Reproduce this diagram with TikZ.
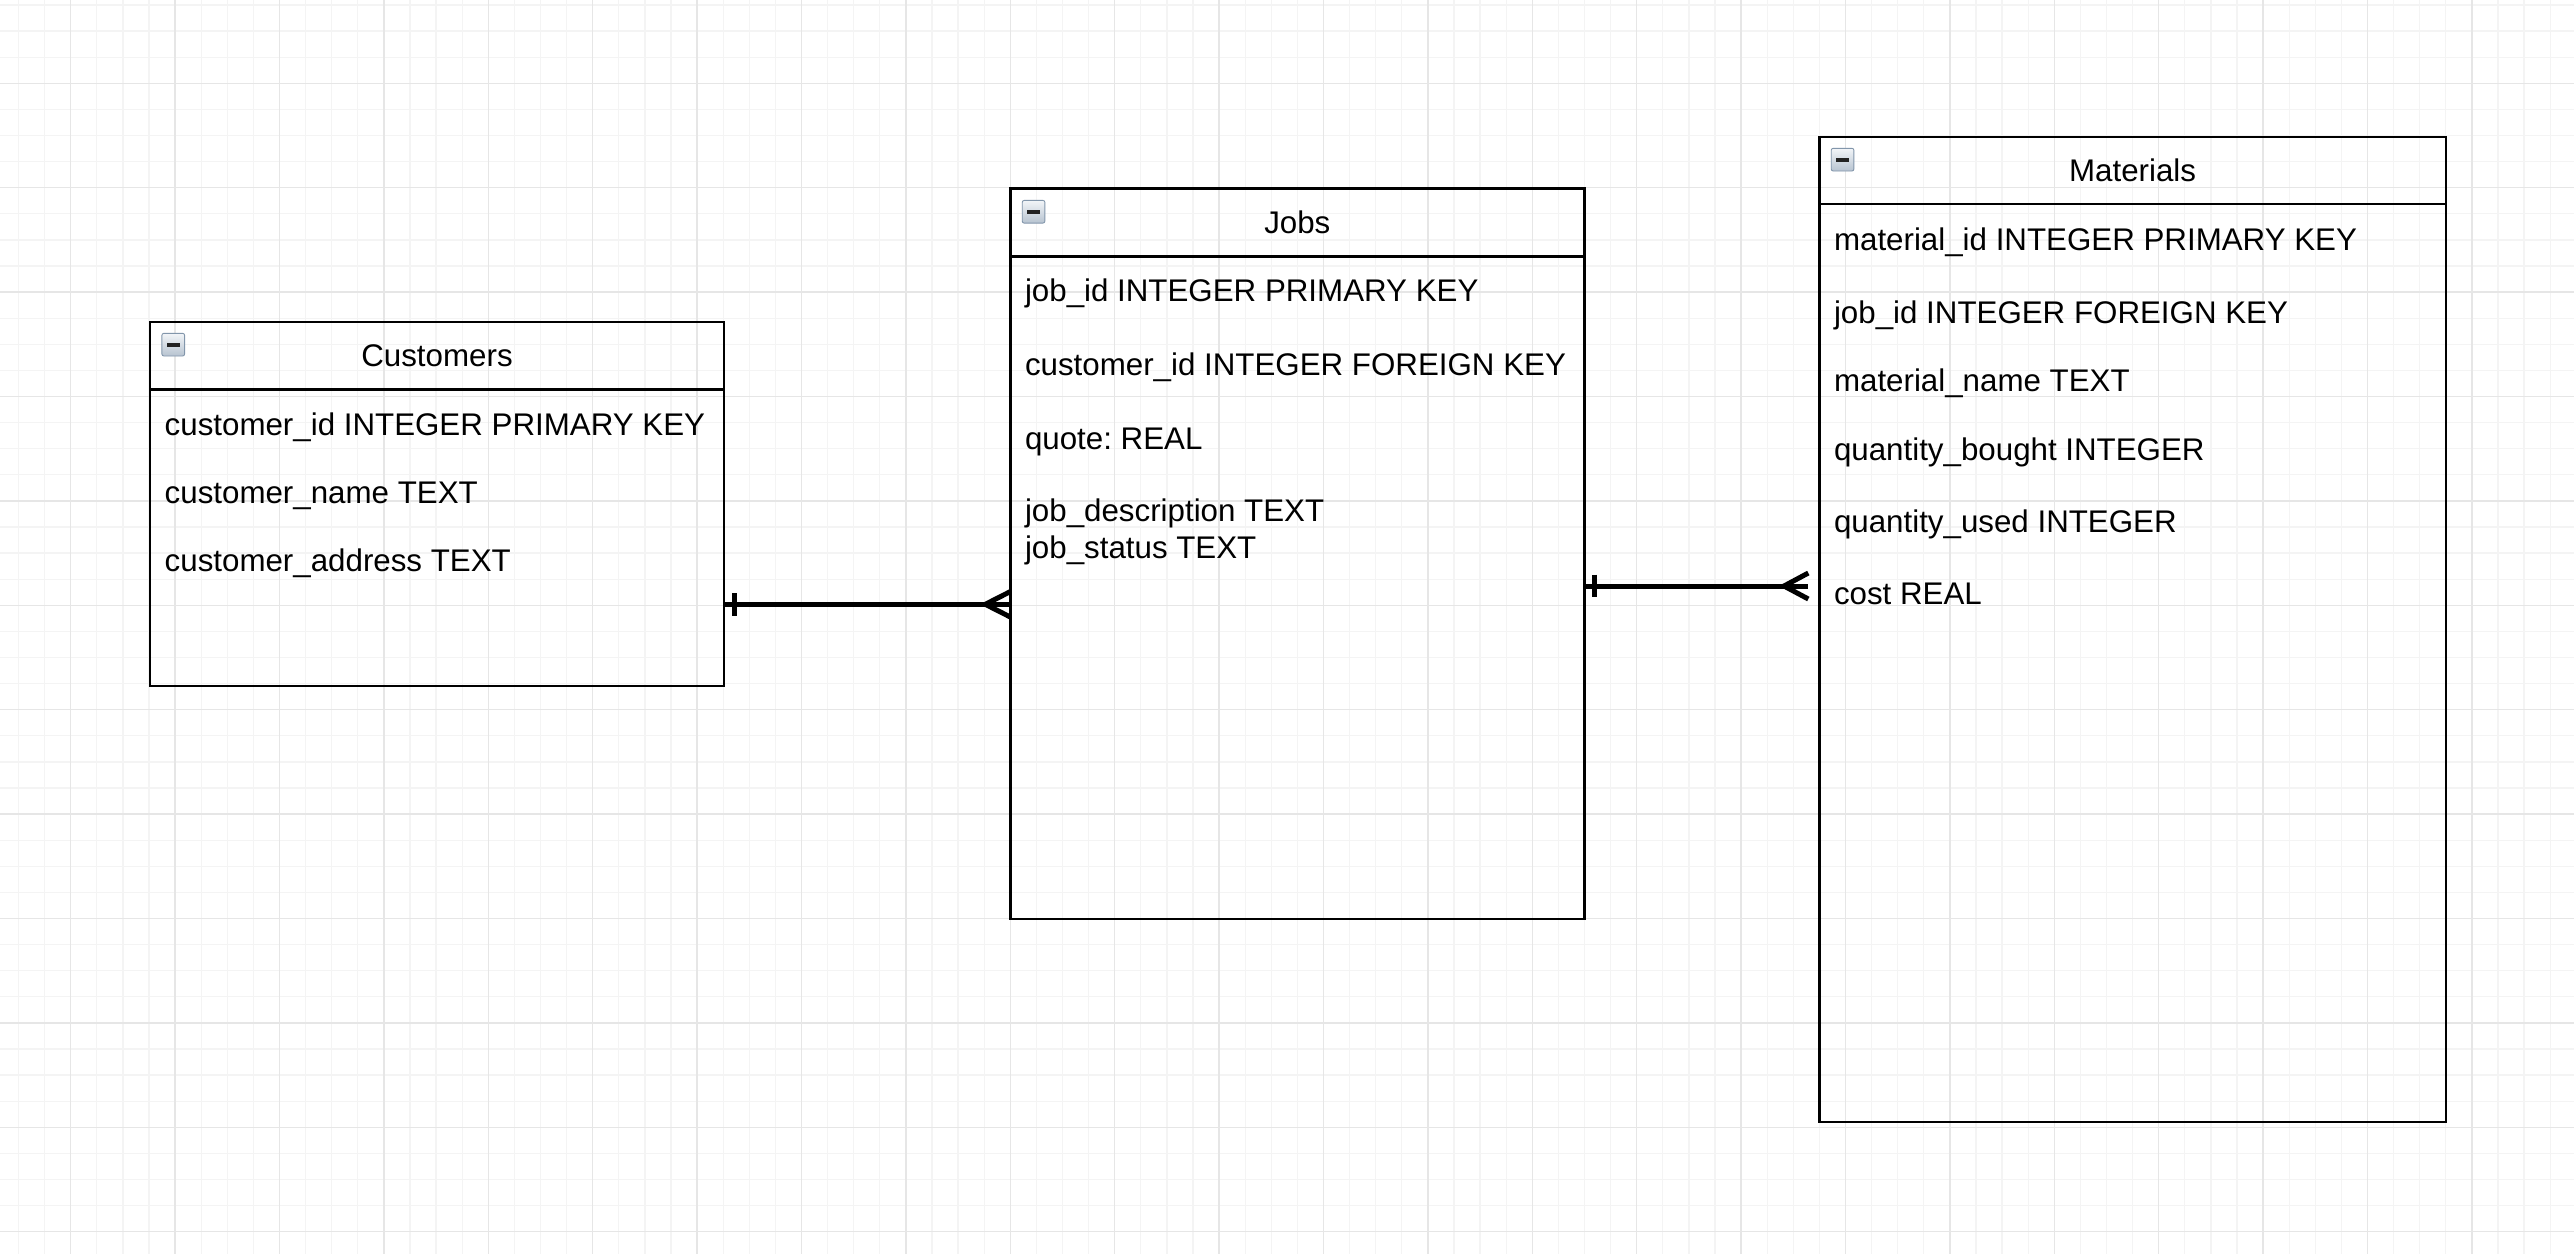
\documentclass[tikz,border=0pt]{standalone}
\usepackage{fontspec}
\setmainfont{Liberation Sans}
\usetikzlibrary{calc}
\frenchspacing
\definecolor{gridminor}{HTML}{F4F4F4}
\definecolor{gridmajor}{HTML}{E6E6E6}
\definecolor{icontop}{HTML}{F2F5F8}
\definecolor{iconbot}{HTML}{B7C3D0}
\definecolor{iconedge}{HTML}{8296AB}
\definecolor{iconbar}{HTML}{222222}
\tikzset{
  tablebox/.style={draw=black, line width=2.4pt, inner sep=0pt, outer sep=0pt, anchor=north west},
  headline/.style={draw=black, line width=2.4pt},
  titletext/.style={font=\fontsize{31.3pt}{37.6pt}\selectfont, inner sep=0pt, anchor=base},
  field/.style={font=\fontsize{31.3pt}{37.6pt}\selectfont, inner sep=0pt, anchor=base west},
  conn/.style={draw=black, line width=5pt},
  iconbox/.style={draw=iconedge, line width=0.9pt, rounded corners=2pt, top color=icontop, bottom color=iconbot, minimum size=22.7pt, inner sep=0pt, outer sep=0pt, anchor=north west},
  minusbar/.style={fill=iconbar},
  minorline/.style={draw=gridminor, line width=1.3pt},
  majorline/.style={draw=gridmajor, line width=1.3pt}
}
\begin{document}
\begin{tikzpicture}[x=1pt,y=-1pt]
\useasboundingbox (0,0) rectangle (2574,1254);
\fill[white] (0,0) rectangle (2574,1254);
% grid
\foreach \k in {0,...,97} {
  \pgfmathsetmacro\gx{18.5+26.1*\k}
  \draw[minorline] (\gx,0) -- (\gx,1254);
}
\foreach \k in {0,...,47} {
  \pgfmathsetmacro\gy{5.0+26.1*\k}
  \draw[minorline] (0,\gy) -- (2574,\gy);
}
\foreach \k in {0,...,23} {
  \pgfmathsetmacro\gx{70.7+104.4*\k}
  \draw[majorline] (\gx,0) -- (\gx,1254);
}
\foreach \k in {0,...,11} {
  \pgfmathsetmacro\gy{83.3+104.4*\k}
  \draw[majorline] (0,\gy) -- (2574,\gy);
}

% tables
\node[tablebox, minimum width=574pt, minimum height=364.3pt] (customers) at (150,321.7) {};
\node[tablebox, minimum width=574pt, minimum height=730.4pt] (jobs) at (1010.3,188.6) {};
\node[tablebox, minimum width=626.5pt, minimum height=985.3pt] (materials) at (1819.3,136.7) {};

% header separators
\draw[headline] ($(customers.north west)+(0,67.6)$) -- ($(customers.north east)+(0,67.6)$);
\draw[headline] ($(jobs.north west)+(0,67.8)$) -- ($(jobs.north east)+(0,67.8)$);
\draw[headline] ($(materials.north west)+(0,67.4)$) -- ($(materials.north east)+(0,67.4)$);

% titles
\node[titletext] (customers-title) at ($(customers.north)+(0,45)$) {Customers};
\node[titletext] (jobs-title) at ($(jobs.north)+(0,45)$) {Jobs};
\node[titletext] (materials-title) at ($(materials.north)+(0,45)$) {Materials};

% collapse icons
\node[iconbox] (customers-icon) at ($(customers.north west)+(11.9,11.6)$) {};
\fill[minusbar] ($(customers-icon.center)+(-6.3,-2)$) rectangle ++(12.7,4);
\node[iconbox] (jobs-icon) at ($(jobs.north west)+(11.9,11.8)$) {};
\fill[minusbar] ($(jobs-icon.center)+(-6.3,-2)$) rectangle ++(12.7,4);
\node[iconbox] (materials-icon) at ($(materials.north west)+(11.9,11.6)$) {};
\fill[minusbar] ($(materials-icon.center)+(-6.3,-2)$) rectangle ++(12.7,4);

% Customers fields
\node[field] (c1) at ($(customers.north west)+(14.5,113.7)$) {customer\_id INTEGER PRIMARY KEY};
\node[field] (c2) at ($(customers.north west)+(14.5,181.7)$) {customer\_name TEXT};
\node[field] (c3) at ($(customers.north west)+(14.5,249.5)$) {customer\_address TEXT};

% Jobs fields
\node[field] (j1) at ($(jobs.north west)+(14.5,113.3)$) {job\_id INTEGER PRIMARY KEY};
\node[field] (j2) at ($(jobs.north west)+(14.5,186.6)$) {customer\_id INTEGER FOREIGN KEY};
\node[field] (j3) at ($(jobs.north west)+(14.5,260.9)$) {quote: REAL};
\node[field] (j4) at ($(jobs.north west)+(14.5,333.3)$) {job\_description TEXT};
\node[field] (j5) at ($(jobs.north west)+(14.5,369.9)$) {job\_status TEXT};

% Materials fields
\node[field] (m1) at ($(materials.north west)+(14.5,113.7)$) {material\_id INTEGER PRIMARY KEY};
\node[field] (m2) at ($(materials.north west)+(14.5,186.7)$) {job\_id INTEGER FOREIGN KEY};
\node[field] (m3) at ($(materials.north west)+(14.5,254.8)$) {material\_name TEXT};
\node[field] (m4) at ($(materials.north west)+(14.5,323.3)$) {quantity\_bought INTEGER};
\node[field] (m5) at ($(materials.north west)+(14.5,395.7)$) {quantity\_used INTEGER};
\node[field] (m6) at ($(materials.north west)+(14.5,468.2)$) {cost REAL};

% relation Customers -> Jobs (one to many)
\coordinate (r1a) at ($(customers.north east)+(0,282.6)$);
\coordinate (r1b) at (r1a -| jobs.west);
\draw[conn] (r1a) -- (r1b);
\draw[conn] ($(r1a)+(10,-11.3)$) -- ($(r1a)+(10,11.3)$);
\draw[conn] ($(r1b)+(0,-12.7)$) -- ($(r1b)+(-25,0)$) -- ($(r1b)+(0,12.7)$);

% relation Jobs -> Materials (one to many)
\coordinate (r2a) at ($(jobs.north east)+(0,397.4)$);
\coordinate (r2b) at ($(r2a -| materials.west)+(-11,0)$);
\draw[conn] (r2a) -- (r2b);
\draw[conn] ($(r2a)+(10,-11.3)$) -- ($(r2a)+(10,11.3)$);
\draw[conn] ($(r2b)+(0,-13)$) -- ($(r2b)+(-24.3,0)$) -- ($(r2b)+(0,13)$);
\end{tikzpicture}
\end{document}
